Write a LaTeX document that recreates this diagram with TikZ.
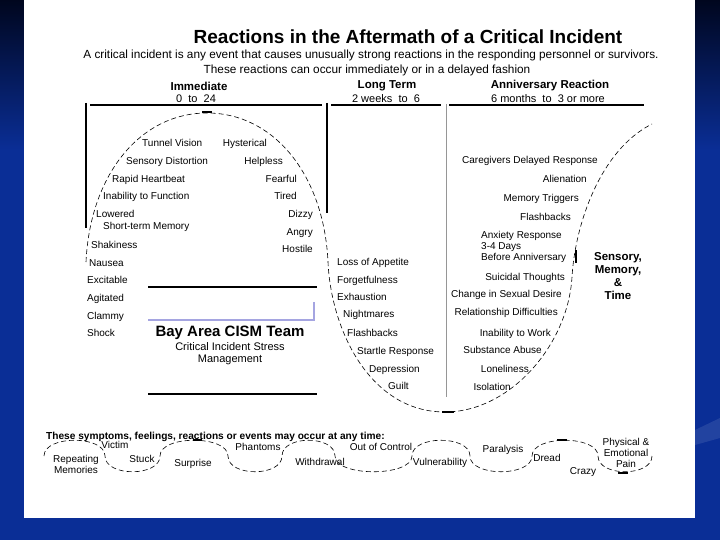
\documentclass[tikz,border=0pt]{standalone}
\usepackage{fontspec}
\setmainfont{Liberation Sans}
\usetikzlibrary{positioning}
\definecolor{slideblue}{RGB}{10,46,150}
\definecolor{slidedark}{RGB}{0,6,30}
\definecolor{cismlav}{RGB}{165,165,225}
\definecolor{rulegray}{RGB}{150,150,150}

\begin{document}
\begin{tikzpicture}[x=1pt, y=-1pt,
  titlefont/.style={font=\fontsize{19}{22}\selectfont\bfseries},
  leadtext/.style={font=\fontsize{11.8}{13}\selectfont},
  colhead/.style={font=\fontsize{11.5}{13}\selectfont\bfseries},
  colsub/.style={font=\fontsize{11}{12}\selectfont},
  item/.style={font=\fontsize{10}{12}\selectfont, inner sep=0pt,
               text height=7pt, text depth=0pt},
  itemw/.style={item, anchor=west},
  iteme/.style={item, anchor=east},
  stack/.style={font=\fontsize{10}{11}\selectfont, inner sep=0pt, align=center},
  rulebar/.style={line width=1.4pt},
  curvedash/.style={line width=0.6pt, dash pattern=on 5pt off 3pt},
  blot/.style={line width=1.8pt}
]

% slide background
\useasboundingbox (0,0) rectangle (720,540);
\fill[slideblue] (0,0) rectangle (720,540);
\shade[top color=slidedark, bottom color=slideblue] (0,0) rectangle (720,150);
\fill[slideblue!60!white, opacity=0.25] (695,430) -- (720,418) -- (720,438) -- (695,445) -- cycle;
\fill[white] (24,0) rectangle (695,518);

% heading
\node[titlefont] (tit) at (408,37) {Reactions in the Aftermath of a Critical Incident};
\node[leadtext] (lead1) at (371,55)
  {A critical incident is any event that causes unusually strong reactions in the responding personnel or survivors.};
\node[leadtext] (lead2) at (367,70) {These reactions can occur immediately or in a delayed fashion};

\node[colhead] (hImm)  at (199,86) {Immediate};
\node[colsub]  (hImmT) at (196,99) {0\ \ to\ \ 24};
\node[colhead] (hLong)  at (387,86) {Long Term};
\node[colsub]  (hLongT) at (386,99) {2 weeks\ \ to\ \ 6};
\node[colhead] (hAnn)  at (550,86) {Anniversary Reaction};
\node[colsub]  (hAnnT) at (548,99) {6 months\ \ to\ \ 3 or more};

% rules
\draw[rulebar] (90,105) -- (322,105);
\draw[rulebar] (331,105) -- (441,105);
\draw[rulebar] (449,105) -- (644,105);
\draw[rulebar] (86,103) -- (86,228);
\draw[rulebar] (327,103) -- (327,213);
\draw[rulegray, line width=0.8pt] (446,104) -- (446,397);

% the S curve
\draw[curvedash] (86,262) .. controls (90,175) and (140,113) .. (207,113)
  .. controls (274,113) and (324,175) .. (328,262)
  .. controls (331,330) and (370,412) .. (445,412)
  .. controls (510,412) and (568,345) .. (572,277)
  .. controls (575,225) and (600,150) .. (652,124);
\draw[blot] (202,112) -- (212,112);
\draw[blot] (442,412) -- (454,412);
\draw[blot] (576,250) -- (576,263);

% immediate
\node[itemw] (im1)  at (142,143) {Tunnel Vision};
\node[itemw] (im2)  at (126,161) {Sensory Distortion};
\node[itemw] (im3)  at (112,179) {Rapid Heartbeat};
\node[itemw] (im4)  at (103,196) {Inability to Function};
\node[itemw] (im5)  at (96,214)  {Lowered};
\node[itemw] (im6)  at (103,226) {Short-term Memory};
\node[itemw] (im7)  at (91,245)  {Shakiness};
\node[itemw] (im8)  at (89,263)  {Nausea};
\node[itemw] (im9)  at (87,280)  {Excitable};
\node[itemw] (im10) at (87,298)  {Agitated};
\node[itemw] (im11) at (87,316)  {Clammy};
\node[itemw] (im12) at (87,333)  {Shock};
\node[iteme] (ir1) at (267,143) {Hysterical};
\node[iteme] (ir2) at (283,161) {Helpless};
\node[iteme] (ir3) at (297,179) {Fearful};
\node[iteme] (ir4) at (297,196) {Tired};
\node[iteme] (ir5) at (313,214) {Dizzy};
\node[iteme] (ir6) at (313,232) {Angry};
\node[iteme] (ir7) at (313,249) {Hostile};

% team block
\draw[line width=1.8pt] (148,287) -- (317,287);
\draw[cismlav, line width=2.4pt] (148,320) -- (314,320) -- (314,302);
\draw[rulebar] (148,394) -- (317,394);
\node[font=\fontsize{15}{17}\selectfont\bfseries] (team) at (230,333) {Bay Area CISM Team};
\node[font=\fontsize{11}{12}\selectfont, align=center] (teamsub) at (230,354)
  {Critical Incident Stress\\Management};

% long term
\node[itemw] (lt1) at (337,262) {Loss of Appetite};
\node[itemw] (lt2) at (337,280) {Forgetfulness};
\node[itemw] (lt3) at (337,297) {Exhaustion};
\node[itemw] (lt4) at (343,314) {Nightmares};
\node[itemw] (lt5) at (347,333) {Flashbacks};
\node[itemw] (lt6) at (357,351) {Startle Response};
\node[itemw] (lt7) at (369,369) {Depression};
\node[itemw] (lt8) at (388,386) {Guilt};

% anniversary
\node[iteme] (an1) at (598,160) {Caregivers Delayed Response};
\node[iteme] (an2) at (587,179) {Alienation};
\node[iteme] (an3) at (579,198) {Memory Triggers};
\node[iteme] (an4) at (571,217) {Flashbacks};
\node[stack, align=left, anchor=west] (an5) at (481,247)
  {Anxiety Response\\3-4 Days\\Before Anniversary};
\node[iteme] (an6)  at (565,277) {Suicidal Thoughts};
\node[iteme] (an7)  at (562,294) {Change in Sexual Desire};
\node[iteme] (an8)  at (558,312) {Relationship Difficulties};
\node[iteme] (an9)  at (551,333) {Inability to Work};
\node[iteme] (an10) at (542,350) {Substance Abuse};
\node[iteme] (an11) at (529,369) {Loneliness};
\node[iteme] (an12) at (511,387) {Isolation};
\node[font=\fontsize{11.5}{13}\selectfont\bfseries, align=center] (smt) at (618,276)
  {Sensory,\\Memory,\\\&\\Time};

% any time row
\node[font=\fontsize{10.15}{12}\selectfont\bfseries, anchor=west, inner sep=0pt] (anyt) at (46,437)
  {These symptoms, feelings, reactions or events may occur at any time:};
\draw[curvedash] (44,456)
  .. controls (44,435) and (105,435) .. (105,456)
  .. controls (105,477) and (160,477) .. (160,456)
  .. controls (160,435) and (228,435) .. (228,456)
  .. controls (228,477) and (282,477) .. (282,456)
  .. controls (282,435) and (335,435) .. (335,456)
  .. controls (335,477) and (412,477) .. (412,456)
  .. controls (412,435) and (470,435) .. (470,456)
  .. controls (470,477) and (532,477) .. (532,456)
  .. controls (532,435) and (598,435) .. (598,456)
  .. controls (598,477) and (652,477) .. (652,456);
\draw[blot] (193,440) -- (202,440);
\draw[blot] (557,440) -- (567,440);
\draw[blot] (618,473) -- (628,473);

\node[stack] (w1)  at (76,464)  {Repeating\\Memories};
\node[item] (w2)  at (115,445) {Victim};
\node[item] (w3)  at (142,459) {Stuck};
\node[item] (w4)  at (193,463) {Surprise};
\node[item] (w5)  at (258,447) {Phantoms};
\node[item] (w6)  at (320,462) {Withdrawal};
\node[item] (w7)  at (381,447) {Out of Control};
\node[item] (w8)  at (440,462) {Vulnerability};
\node[item] (w9)  at (503,449) {Paralysis};
\node[item] (w10) at (547,458) {Dread};
\node[item] (w11) at (583,471) {Crazy};
\node[stack] (w12) at (626,453) {Physical \&\\Emotional\\Pain};

\end{tikzpicture}
\end{document}
